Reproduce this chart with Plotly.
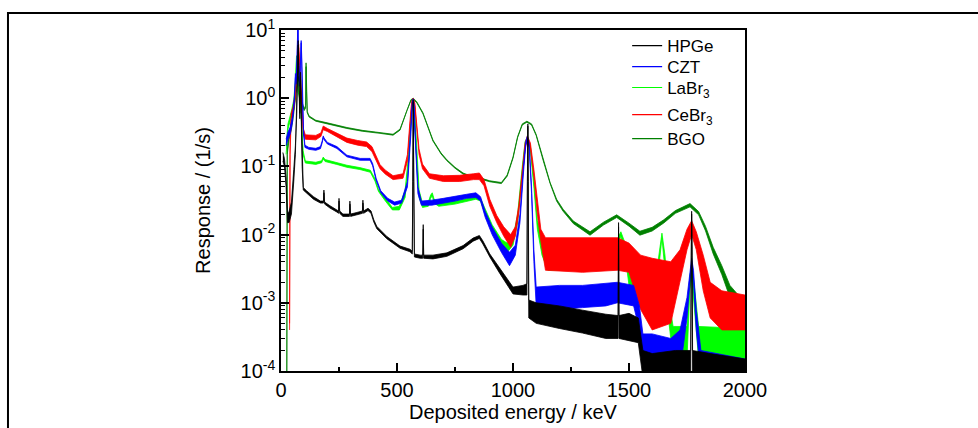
import plotly.graph_objects as go

# ---------------- data ----------------
# Each detector: energies (keV) and lower / upper envelope of the response (1/s)

hpge_e = [8, 15, 22, 28, 35, 45, 55, 62, 68, 72, 74, 76, 78, 81, 84, 86, 88, 91, 96, 110, 140, 170, 183, 185, 188,
          211, 240, 248, 250, 253, 267, 295, 297, 300, 327, 351, 353, 356, 375, 388, 400, 413, 456, 513, 556, 566,
          568, 570, 572, 575, 600, 611, 613, 615, 655, 715, 785, 828, 855, 870, 900, 943, 1000, 1043, 1060, 1062,
          1064, 1066, 1068, 1100, 1200, 1300, 1400, 1453, 1455, 1457, 1500, 1540, 1560, 1600, 1700, 1766, 1768,
          1770, 1772, 1774, 1850, 2000]
hpge_lo = [0.12, 0.10, 0.05, 0.015, 0.015, 0.02, 0.06, 0.15, 0.5, 3.0, 6.0, 2.5, 1.0, 0.5, 2.0, 1.5, 0.4, 0.1, 0.045,
           0.041, 0.033, 0.029, 0.029, 0.041, 0.028, 0.0245, 0.0215, 0.0205, 0.031, 0.0205, 0.0185, 0.0185, 0.028,
           0.0185, 0.0195, 0.0205, 0.029, 0.0205, 0.0225, 0.0205, 0.0153, 0.0122, 0.0087, 0.0063, 0.0056, 0.0052,
           0.05, 0.87, 0.05, 0.0047, 0.0045, 0.0045, 0.012, 0.0045, 0.0044, 0.0048, 0.0062, 0.0080, 0.0088, 0.0073,
           0.0047, 0.0027, 0.00135, 0.0013, 0.0013, 0.05, 0.39, 0.05, 0.0006, 0.0005, 0.00042, 0.00036, 0.0003,
           0.0003, 0.013, 0.0003, 0.00028, 0.00026, 0.00008, 0.00008, 0.00008, 0.00008, 0.005, 0.020, 0.005,
           0.00008, 0.00008, 0.00008]
hpge_hi = [0.16, 0.13, 0.07, 0.02, 0.022, 0.03, 0.09, 0.2, 0.6, 3.5, 7.0, 3.0, 1.2, 0.6, 2.4, 1.8, 0.5, 0.12, 0.049,
           0.044, 0.036, 0.031, 0.031, 0.045, 0.030, 0.0265, 0.0233, 0.0222, 0.034, 0.0222, 0.0200, 0.0200, 0.031,
           0.0200, 0.0211, 0.0222, 0.032, 0.0222, 0.0243, 0.0222, 0.0165, 0.0132, 0.0094, 0.0068, 0.0061, 0.0057,
           0.06, 0.95, 0.06, 0.0052, 0.0050, 0.0050, 0.014, 0.0050, 0.0050, 0.0054, 0.0069, 0.0089, 0.0097, 0.0081,
           0.0052, 0.0032, 0.0017, 0.0018, 0.0019, 0.06, 0.42, 0.06, 0.0011, 0.0010, 0.0009, 0.00078, 0.00068,
           0.00065, 0.015, 0.00065, 0.0007, 0.0006, 0.0002, 0.00018, 0.0002, 0.0002, 0.006, 0.022, 0.006, 0.0002,
           0.00018, 0.00015]

czt_e = [22, 30, 40, 50, 58, 62, 66, 70, 73, 76, 79, 83, 87, 90, 93, 97, 103, 120, 150, 170, 178, 182, 186, 200,
         241, 284, 341, 384, 395, 410, 430, 460, 490, 520, 545, 560, 566, 570, 574, 580, 590, 605, 650, 700, 750,
         800, 840, 860, 880, 910, 950, 985, 1010, 1030, 1045, 1055, 1062, 1070, 1080, 1090, 1100, 1200, 1300, 1400,
         1450, 1520, 1545, 1560, 1600, 1680, 1720, 1750, 1762, 1770, 1778, 1790, 1810, 2000]
czt_lo = [0.2, 0.25, 0.3, 0.45, 0.9, 2.0, 1.6, 4.0, 12.0, 3.0, 1.5, 2.5, 6.5, 3.0, 0.8, 0.3, 0.19, 0.178, 0.172,
          0.182, 0.225, 0.265, 0.245, 0.213, 0.183, 0.138, 0.123, 0.123, 0.102, 0.062, 0.041, 0.031, 0.027, 0.029,
          0.05, 0.3, 0.8, 0.9, 0.7, 0.2, 0.04, 0.027, 0.027, 0.029, 0.031, 0.034, 0.035, 0.031, 0.018, 0.010,
          0.0055, 0.0035, 0.005, 0.015, 0.08, 0.2, 0.25, 0.18, 0.04, 0.004, 0.0009, 0.0008, 0.00085, 0.0009, 0.001,
          0.0009, 0.0004, 0.0001, 0.00008, 0.00008, 0.0001, 0.0006, 0.002, 0.0038, 0.002, 0.0004, 0.00008, 0.00008]
czt_hi = [0.25, 0.32, 0.38, 0.55, 1.1, 2.3, 1.9, 4.5, 13.0, 3.5, 1.8, 3.0, 7.0, 3.5, 1.0, 0.35, 0.205, 0.19, 0.184,
          0.195, 0.24, 0.28, 0.26, 0.225, 0.195, 0.146, 0.131, 0.131, 0.11, 0.067, 0.044, 0.034, 0.030, 0.032,
          0.06, 0.35, 0.9, 0.98, 0.8, 0.25, 0.05, 0.031, 0.032, 0.034, 0.036, 0.039, 0.041, 0.036, 0.022, 0.013,
          0.0075, 0.0055, 0.007, 0.02, 0.1, 0.23, 0.28, 0.21, 0.05, 0.006, 0.0017, 0.0018, 0.0018, 0.0019, 0.002,
          0.0018, 0.0009, 0.00035, 0.00035, 0.0003, 0.0004, 0.0012, 0.003, 0.0045, 0.003, 0.0008, 0.0002, 0.00015]

labr_e = [22, 30, 45, 55, 62, 67, 71, 75, 80, 85, 90, 95, 105, 150, 175, 182, 190, 240, 284, 340, 385, 405, 420,
          450, 480, 510, 535, 550, 560, 566, 570, 576, 585, 595, 610, 635, 645, 652, 660, 680, 750, 800, 840, 860,
          880, 910, 950, 975, 1000, 1020, 1040, 1052, 1062, 1075, 1090, 1105, 1125, 1150, 1300, 1420, 1445, 1465,
          1480, 1500, 1550, 1600, 1625, 1642, 1655, 1670, 1690, 1750, 1762, 1770, 1780, 1800, 2000]
labr_lo = [0.15, 0.35, 0.55, 0.8, 1.5, 3.6, 2.0, 1.2, 1.0, 0.8, 0.3, 0.15, 0.112, 0.107, 0.113, 0.128, 0.118, 0.107,
           0.097, 0.09, 0.082, 0.061, 0.043, 0.031, 0.023, 0.023, 0.035, 0.12, 0.5, 0.85, 0.9, 0.6, 0.15, 0.035,
           0.025, 0.026, 0.034, 0.037, 0.029, 0.026, 0.028, 0.031, 0.033, 0.031, 0.020, 0.011, 0.0065, 0.0055, 0.007,
           0.015, 0.08, 0.2, 0.25, 0.17, 0.05, 0.012, 0.005, 0.003, 0.003, 0.0035, 0.006, 0.0095, 0.006, 0.0018,
           0.0012, 0.0012, 0.0025, 0.009, 0.003, 0.0006, 0.00015, 0.00015, 0.0015, 0.0025, 0.001, 0.00015, 0.00012]
labr_hi = [0.2, 0.42, 0.65, 0.95, 1.8, 4.2, 2.3, 1.4, 1.2, 0.95, 0.36, 0.17, 0.12, 0.115, 0.121, 0.137, 0.126,
           0.114, 0.104, 0.096, 0.088, 0.066, 0.046, 0.034, 0.025, 0.026, 0.045, 0.15, 0.6, 0.95, 0.97, 0.7, 0.2,
           0.045, 0.029, 0.030, 0.038, 0.041, 0.033, 0.029, 0.031, 0.034, 0.036, 0.034, 0.024, 0.014, 0.0085, 0.0075,
           0.009, 0.02, 0.1, 0.23, 0.27, 0.2, 0.06, 0.016, 0.009, 0.006, 0.0055, 0.006, 0.008, 0.011, 0.008, 0.003,
           0.0025, 0.0025, 0.004, 0.0105, 0.005, 0.0012, 0.00045, 0.00045, 0.0025, 0.0032, 0.002, 0.00045, 0.00042]

cebr_e = [37, 39, 44, 52, 60, 66, 72, 76, 80, 85, 90, 96, 105, 150, 172, 182, 200, 240, 284, 330, 369, 392, 410,
          427, 450, 483, 526, 545, 555, 563, 570, 577, 585, 595, 610, 640, 700, 770, 830, 855, 875, 900, 930, 960,
          990, 1010, 1025, 1040, 1052, 1062, 1075, 1090, 1105, 1120, 1140, 1300, 1450, 1500, 1550, 1600, 1680, 1720,
          1750, 1770, 1790, 1820, 1850, 1900, 2000]
cebr_lo = [0.0004, 0.15, 0.5, 0.6, 0.9, 1.5, 3.5, 5.5, 3.0, 1.5, 0.6, 0.3, 0.25, 0.245, 0.275, 0.345, 0.325, 0.275,
           0.225, 0.205, 0.195, 0.165, 0.122, 0.092, 0.077, 0.064, 0.067, 0.12, 0.35, 0.8, 0.95, 0.75, 0.35, 0.15,
           0.092, 0.067, 0.06, 0.06, 0.064, 0.064, 0.052, 0.026, 0.015, 0.0095, 0.0065, 0.0095, 0.021, 0.07, 0.18,
           0.25, 0.18, 0.07, 0.02, 0.008, 0.003, 0.0028, 0.003, 0.0028, 0.0008, 0.0004, 0.0005, 0.002, 0.006, 0.010,
           0.006, 0.0015, 0.0006, 0.0004, 0.0004]
cebr_hi = [0.0005, 0.25, 0.6, 0.75, 1.1, 1.8, 4.0, 6.2, 3.5, 1.8, 0.75, 0.36, 0.29, 0.285, 0.31, 0.39, 0.36, 0.31,
           0.26, 0.24, 0.228, 0.195, 0.138, 0.106, 0.088, 0.073, 0.078, 0.15, 0.42, 0.9, 1.0, 0.85, 0.42, 0.18,
           0.108, 0.078, 0.073, 0.074, 0.078, 0.08, 0.064, 0.033, 0.019, 0.013, 0.010, 0.013, 0.027, 0.085, 0.22,
           0.28, 0.22, 0.09, 0.03, 0.012, 0.009, 0.009, 0.009, 0.0075, 0.005, 0.0045, 0.004, 0.006, 0.012, 0.016,
           0.011, 0.005, 0.002, 0.0015, 0.0013]

bgo_e = [25, 27, 35, 45, 55, 65, 72, 78, 84, 90, 100, 106, 108, 110, 113, 121, 150, 200, 284, 350, 427, 483, 513,
         543, 560, 570, 585, 612, 635, 655, 690, 715, 750, 785, 820, 858, 900, 950, 975, 1000, 1020, 1040, 1060,
         1080, 1100, 1130, 1160, 1188, 1216, 1260, 1332, 1390, 1447, 1500, 1547, 1600, 1650, 1700, 1763, 1800, 1830,
         1863, 1900, 1935, 1970, 2000]
bgo_lo = [0.00008, 0.15, 0.25, 0.35, 0.6, 1.2, 1.7, 1.9, 1.3, 0.8, 0.66, 0.72, 2.9, 1.25, 0.61, 0.53, 0.46, 0.42,
          0.36, 0.328, 0.305, 0.287, 0.34, 0.66, 0.92, 0.96, 0.86, 0.59, 0.37, 0.235, 0.152, 0.121, 0.094, 0.077,
          0.0695, 0.0655, 0.0595, 0.056, 0.072, 0.132, 0.265, 0.405, 0.445, 0.405, 0.283, 0.122, 0.056, 0.031, 0.022,
          0.0145, 0.0098, 0.0138, 0.0178, 0.0133, 0.0098, 0.0113, 0.0148, 0.0205, 0.0255, 0.0195, 0.0113, 0.0052,
          0.0026, 0.0012, 0.0008, 0.0006]
bgo_hi = [0.0001, 0.2, 0.3, 0.42, 0.7, 1.4, 2.0, 2.1, 1.5, 0.9, 0.70, 0.78, 3.3, 1.4, 0.64, 0.55, 0.475, 0.435, 0.372,
          0.338, 0.315, 0.296, 0.352, 0.68, 0.95, 1.0, 0.89, 0.61, 0.385, 0.243, 0.157, 0.125, 0.097, 0.080, 0.072,
          0.068, 0.0615, 0.058, 0.075, 0.137, 0.274, 0.42, 0.46, 0.42, 0.293, 0.127, 0.058, 0.033, 0.0235, 0.0158,
          0.0110, 0.0152, 0.0195, 0.0147, 0.0112, 0.0128, 0.0165, 0.0225, 0.0285, 0.0218, 0.0132, 0.0065, 0.0035,
          0.0018, 0.0013, 0.001]

names = ["HPGe", "CZT", "LaBr<sub>3</sub>", "CeBr<sub>3</sub>", "BGO"]
colors = ["#000000", "#0000ff", "#00ff00", "#ff0000", "#008000"]

series = {
    "HPGe": (hpge_e, hpge_lo, hpge_hi, colors[0]),
    "CZT": (czt_e, czt_lo, czt_hi, colors[1]),
    "LaBr3": (labr_e, labr_lo, labr_hi, colors[2]),
    "CeBr3": (cebr_e, cebr_lo, cebr_hi, colors[3]),
    "BGO": (bgo_e, bgo_lo, bgo_hi, colors[4]),
}
draw_order = ["BGO", "LaBr3", "CeBr3", "CZT", "HPGe"]

x_ticks = [0, 500, 1000, 1500, 2000]
y_ticks = [1e-4, 1e-3, 1e-2, 1e-1, 1e0, 1e1]
y_ticktext = ["10<sup>-4</sup>", "10<sup>-3</sup>", "10<sup>-2</sup>", "10<sup>-1</sup>", "10<sup>0</sup>", "10<sup>1</sup>"]

# ---------------- figure ----------------
fig = go.Figure()
for key in draw_order:
    e, lo, hi, col = series[key]
    fig.add_trace(go.Scatter(
        x=list(e) + list(e)[::-1], y=list(hi) + list(lo)[::-1],
        mode="lines", fill="toself", fillcolor=col,
        line=dict(color=col, width=0.8), showlegend=False, hoverinfo="skip"))

font_family = "Liberation Sans, Arial, sans-serif"

# one small legend per entry so each row sits where the reference puts it
legend_rows_y = [0.953, 0.8915, 0.830, 0.7507, 0.680]
legend_keys = ["legend", "legend2", "legend3", "legend4", "legend5"]
legend_layouts = {}
for n, c, lk, ly in zip(names, colors, legend_keys, legend_rows_y):
    fig.add_trace(go.Scatter(x=[None], y=[None], mode="lines", name=n, legend=lk,
                             line=dict(color=c, width=1.2)))
    legend_layouts[lk] = dict(x=0.746, y=ly, xanchor="left", yanchor="middle",
                              bgcolor="rgba(0,0,0,0)", borderwidth=0,
                              font=dict(size=17, family=font_family, color="black"))

minor_y = [m * 10.0 ** d for d in range(-4, 1) for m in range(2, 10)]

fig.update_layout(
    width=978, height=428, autosize=False,
    margin=dict(l=281, r=233, t=30, b=57, autoexpand=False),
    paper_bgcolor="white", plot_bgcolor="white",
    font=dict(family=font_family, size=20, color="black"),
    showlegend=True,
    xaxis=dict(range=[0, 2000], tickmode="array", tickvals=x_ticks, automargin=False,
               showline=True, linecolor="black", linewidth=1.5, mirror=True,
               ticks="inside", ticklen=8, tickwidth=1.5, tickcolor="black",
               minor=dict(dtick=250, ticks="inside", ticklen=4, tickwidth=1.5, tickcolor="black"),
               showgrid=False, zeroline=False, ticklabelstandoff=0,
               title=dict(text="Deposited energy / keV", font=dict(size=20), standoff=5)),
    yaxis=dict(type="log", range=[-4, 1], tickmode="array", tickvals=y_ticks, ticktext=y_ticktext,
               automargin=False,
               showline=True, linecolor="black", linewidth=1.5, mirror=True,
               ticks="inside", ticklen=8, tickwidth=1.5, tickcolor="black",
               minor=dict(tickmode="array", tickvals=minor_y, ticks="inside", ticklen=4,
                          tickwidth=1.2, tickcolor="black"),
               showgrid=False, zeroline=False,
               title=dict(text="Response / (1/s)", font=dict(size=20), standoff=25)),
    shapes=[dict(type="path", xref="paper", yref="paper",
                 path="M -0.5884,-0.2 L -0.5884,1.0499 L 1.52,1.0499",
                 line=dict(color="black", width=2))],
    **legend_layouts,
)

fig.write_html("out.html")
